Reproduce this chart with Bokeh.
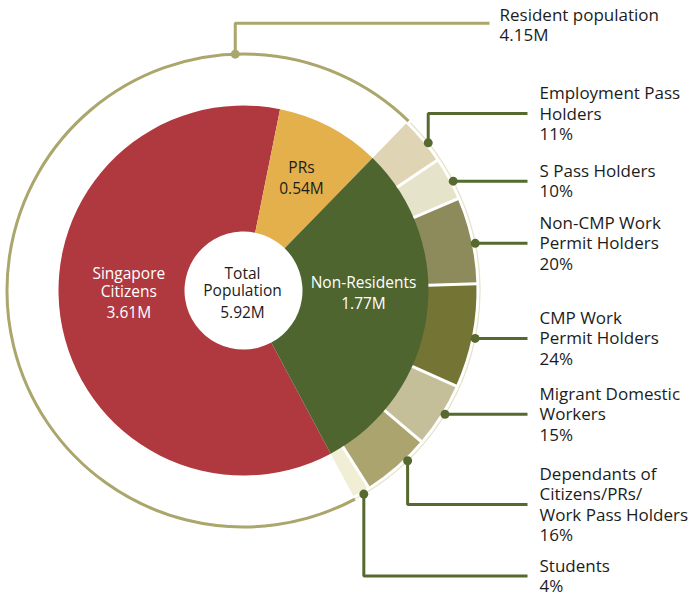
import math
from bokeh.plotting import figure
from bokeh.models import Range1d
from bokeh.core.properties import value
from bokeh.embed import file_html
from bokeh.resources import INLINE

# ---------------- data ----------------
main_labels = ["Singapore\nCitizens", "PRs", "Non-Residents"]
main_values = [3.61, 0.54, 1.77]          # millions
main_value_text = ["3.61M", "0.54M", "1.77M"]
total_label = "Total\nPopulation"
total_value_text = "5.92M"
resident_label = "Resident population"
resident_value_text = "4.15M"

sub_labels = [
    "Employment Pass\nHolders",
    "S Pass Holders",
    "Non-CMP Work\nPermit Holders",
    "CMP Work\nPermit Holders",
    "Migrant Domestic\nWorkers",
    "Dependants of\nCitizens/PRs/\nWork Pass Holders",
    "Students",
]
sub_pct = [11, 10, 20, 24, 15, 16, 4]

# ---------------- style / layout ----------------
W, H = 688, 596
FONT = "Open Sans"
main_colors = ["#B0393F", "#E3B04B", "#4E6530"]
sub_colors = ["#DFD5B4", "#E5E3C9", "#8D8A5B", "#747535", "#C4BF98", "#ABA46E", "#F0EFD5"]
OLIVE = "#AAA66C"
LEADER = "#566A30"
PALE = "#E6E3C8"
TXT = "#1C1C1C"

CX, CY = 243, 306
R_HOLE, R_MAIN, R_SUB, R_OUT = 59, 185, 233, 236.5
START_DEG = 11.4  # clockwise from 12 o'clock where PRs begins


def ang(theta_deg):
    """clockwise-from-top degrees -> bokeh radians (anticlockwise from +x)"""
    return math.radians(90.0 - theta_deg)


def polar(theta_deg, r):
    a = ang(theta_deg)
    return CX + r * math.cos(a), CY + r * math.sin(a)


p = figure(width=W, height=H, x_range=Range1d(0, W), y_range=Range1d(0, H),
           output_backend="svg", toolbar_location=None, min_border=0)
p.axis.visible = False
p.grid.visible = False
p.outline_line_color = None
p.background_fill_color = "white"
p.border_fill_color = "white"

total = sum(main_values)
order = [1, 2, 0]  # PRs, Non-Residents, Citizens (clockwise)
theta = START_DEG
spans = {}
for i in order:
    span = main_values[i] / total * 360.0
    spans[i] = (theta, theta + span)
    theta += span

nr0, nr1 = spans[2]

# ---- sub segments (non-residents breakdown)
sub_total = sum(sub_pct)
t = nr0
sub_spans = []
for v in sub_pct:
    s = v / sub_total * (nr1 - nr0)
    sub_spans.append((t, t + s))
    t += s

p.annular_wedge(x=[CX] * len(sub_pct), y=[CY] * len(sub_pct),
                inner_radius=R_MAIN - 2, outer_radius=R_SUB,
                start_angle=[ang(a) for a, b in sub_spans],
                end_angle=[ang(b) for a, b in sub_spans],
                direction="clock", fill_color=sub_colors, line_color=None)

# ---- main donut
p.annular_wedge(x=[CX] * 3, y=[CY] * 3, inner_radius=R_HOLE, outer_radius=R_MAIN,
                start_angle=[ang(spans[i][0]) for i in range(3)],
                end_angle=[ang(spans[i][1]) for i in range(3)],
                direction="clock", fill_color=main_colors, line_color=None)

# separators between sub segments
sx0, sy0, sx1, sy1 = [], [], [], []
for a, b in sub_spans[:-1]:
    x0, y0 = polar(b, R_MAIN)
    x1, y1 = polar(b, R_SUB + 1)
    sx0.append(x0); sy0.append(y0); sx1.append(x1); sy1.append(y1)
p.segment(x0=sx0, y0=sy0, x1=sx1, y1=sy1, line_color="white", line_width=3)

# outer rings
p.arc(x=[CX], y=[CY], radius=R_OUT, start_angle=[ang(nr1)], end_angle=[ang(nr0 + 360)],
      direction="clock", line_color=OLIVE, line_width=3)
p.arc(x=[CX], y=[CY], radius=R_OUT, start_angle=[ang(nr0 + 0.6)], end_angle=[ang(nr1)],
      direction="clock", line_color=PALE, line_width=1.2)

# ---- resident population leader
RES_THETA = -2.0
rx, ry = polar(RES_THETA, R_OUT)
RES_LINE_Y, RES_LINE_X1, RES_TEXT_X = 573.3, 489, 499
p.line(x=[rx, rx, RES_LINE_X1], y=[ry, RES_LINE_Y, RES_LINE_Y], line_color=OLIVE, line_width=3)
p.scatter(x=[rx], y=[ry], size=9, marker="circle", fill_color=OLIVE, line_color=None)
p.text(x=[RES_TEXT_X, RES_TEXT_X], y=[RES_LINE_Y + 9, RES_LINE_Y - 11.5],
       text=[resident_label, resident_value_text], text_font=value(FONT),
       text_font_size="17px", text_color=TXT, text_baseline="middle", text_align="left")

# ---- sub leaders
LINE_X1, TEXT_X, LH = 527, 539, 20.6
label_y_fixed = [483, None, None, None, None, 92, 20.5]
dot_shift_deg = [1.2, 1.0, 0.9, 0.4, -0.7, -2.9, -0.3]
dot_x, dot_y, xs, ys = [], [], [], []
tx, ty, tt = [], [], []
for k, (a, b) in enumerate(sub_spans):
    mid = (a + b) / 2 + dot_shift_deg[k]
    dx, dy = polar(mid, R_OUT)
    dot_x.append(dx); dot_y.append(dy)
    ly = label_y_fixed[k] if label_y_fixed[k] is not None else dy
    if label_y_fixed[k] is None:
        xs.append([dx, LINE_X1]); ys.append([dy, dy])
    else:
        xs.append([dx, dx, LINE_X1]); ys.append([dy, ly, ly])
    lines = sub_labels[k].split("\n") + [f"{sub_pct[k]}%"]
    n = len(lines)
    top = ly + 0.5 + (n - 1) * LH / 2
    for j, s in enumerate(lines):
        tx.append(TEXT_X); ty.append(top - j * LH); tt.append(s)

p.multi_line(xs=xs, ys=ys, line_color=LEADER, line_width=3)
p.scatter(x=dot_x, y=dot_y, size=9, marker="circle", fill_color=LEADER, line_color=None)
p.text(x=tx, y=ty, text=tt, text_font=value(FONT), text_font_size="17px",
       text_color=TXT, text_baseline="middle", text_align="left")

# ---- labels inside the donut
in_x, in_y, in_t, in_c = [], [], [], []
# PRs
for s, yy in zip(main_labels[1].split("\n") + [main_value_text[1]], [429.3, 408.7]):
    in_x.append(301); in_y.append(yy); in_t.append(s); in_c.append(TXT)
# Total
for s, yy in zip(total_label.split("\n") + [total_value_text], [323.7, 306.7, 285]):
    in_x.append(242); in_y.append(yy); in_t.append(s); in_c.append(TXT)
# Citizens
for s, yy in zip(main_labels[0].split("\n") + [main_value_text[0]], [323.3, 306, 285]):
    in_x.append(128.3); in_y.append(yy); in_t.append(s); in_c.append("white")
# Non-residents
for s, yy in zip(main_labels[2].split("\n") + [main_value_text[2]], [314.3, 294]):
    in_x.append(363); in_y.append(yy); in_t.append(s); in_c.append("white")

p.text(x=in_x, y=in_y, text=in_t, text_color=in_c, text_font=value(FONT),
       text_font_size="15.5px", text_baseline="middle", text_align="center")

open("out.html", "w").write(file_html(p, INLINE))
